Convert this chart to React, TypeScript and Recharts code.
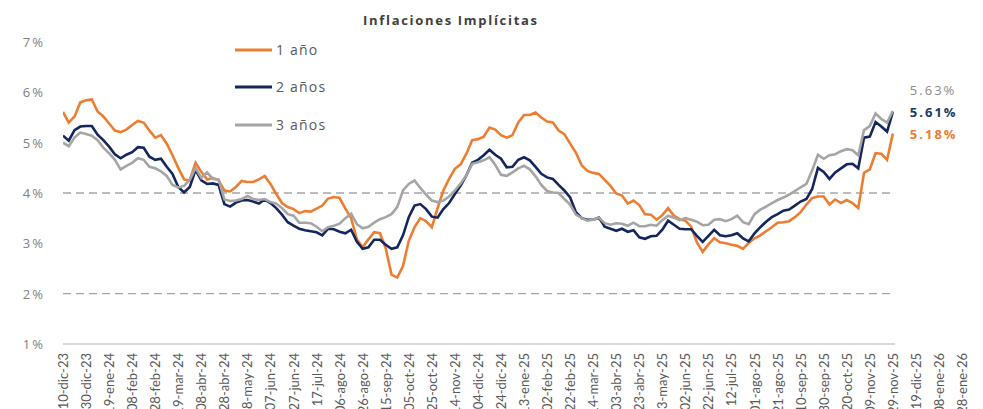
import React from "react";
import { LineChart, Line, XAxis, YAxis, ReferenceLine, Legend } from "recharts";

const tickLabels = [
  "10-dic-23", "30-dic-23", "19-ene-24", "08-feb-24", "28-feb-24", "19-mar-24", "08-abr-24", "28-abr-24",
  "18-may-24", "07-jun-24", "27-jun-24", "17-jul-24", "06-ago-24", "26-ago-24", "15-sep-24", "05-oct-24",
  "25-oct-24", "14-nov-24", "04-dic-24", "24-dic-24", "13-ene-25", "02-feb-25", "22-feb-25", "14-mar-25",
  "03-abr-25", "23-abr-25", "13-may-25", "02-jun-25", "22-jun-25", "12-jul-25", "01-ago-25", "21-ago-25",
  "10-sep-25", "30-sep-25", "20-oct-25", "09-nov-25", "29-nov-25", "19-dic-25", "08-ene-26", "28-ene-26",
];

const yTicks = [1, 2, 3, 4, 5, 6, 7];
const dashedLevels = [2, 4];

const oneYear = [
  5.61, 5.40, 5.52, 5.80, 5.84, 5.86, 5.62, 5.52, 5.38, 5.24,
  5.21, 5.26, 5.35, 5.43, 5.40, 5.24, 5.10, 5.15, 4.98, 4.75,
  4.50, 4.27, 4.25, 4.60, 4.42, 4.27, 4.30, 4.25, 4.05, 4.03,
  4.12, 4.24, 4.22, 4.22, 4.27, 4.34, 4.18, 3.98, 3.80, 3.72,
  3.68, 3.60, 3.64, 3.63, 3.69, 3.75, 3.89, 3.92, 3.90, 3.69,
  3.50, 3.08, 2.92, 3.08, 3.22, 3.20, 2.90, 2.38, 2.32, 2.55,
  3.05, 3.32, 3.50, 3.44, 3.32, 3.70, 4.05, 4.28, 4.48, 4.57,
  4.78, 5.05, 5.07, 5.12, 5.30, 5.26, 5.15, 5.10, 5.15, 5.40,
  5.55, 5.55, 5.60, 5.50, 5.42, 5.40, 5.24, 5.17, 4.98, 4.80,
  4.55, 4.44, 4.40, 4.38, 4.26, 4.14, 3.99, 3.95, 3.79, 3.85,
  3.76, 3.58, 3.57, 3.47, 3.56, 3.70, 3.55, 3.48, 3.45, 3.33,
  3.02, 2.83, 2.98, 3.10, 3.02, 3.00, 2.97, 2.95, 2.89, 3.01,
  3.10, 3.16, 3.24, 3.32, 3.41, 3.42, 3.44, 3.52, 3.62, 3.77,
  3.90, 3.93, 3.93, 3.77, 3.87, 3.80, 3.86, 3.80, 3.70, 4.40,
  4.47, 4.79, 4.78, 4.66, 5.18,
];

const twoYears = [
  5.14, 5.04, 5.25, 5.32, 5.33, 5.33, 5.16, 5.05, 4.92, 4.77,
  4.69, 4.76, 4.81, 4.91, 4.90, 4.72, 4.66, 4.68, 4.52, 4.38,
  4.12, 4.01, 4.12, 4.46, 4.25, 4.18, 4.19, 4.16, 3.78, 3.73,
  3.81, 3.85, 3.86, 3.83, 3.79, 3.87, 3.80, 3.70, 3.57, 3.42,
  3.35, 3.29, 3.26, 3.24, 3.22, 3.16, 3.29, 3.28, 3.23, 3.20,
  3.27, 3.03, 2.89, 2.92, 3.07, 3.07, 2.97, 2.89, 2.92, 3.16,
  3.52, 3.75, 3.78, 3.68, 3.53, 3.51, 3.68, 3.80, 3.98, 4.15,
  4.35, 4.60, 4.66, 4.75, 4.86, 4.76, 4.68, 4.51, 4.52, 4.66,
  4.71, 4.65, 4.52, 4.38, 4.31, 4.28, 4.16, 4.05, 3.91, 3.62,
  3.50, 3.47, 3.47, 3.51, 3.33, 3.29, 3.25, 3.29, 3.23, 3.26,
  3.12, 3.09, 3.14, 3.15, 3.27, 3.45, 3.37, 3.29, 3.28, 3.28,
  3.15, 3.03, 3.15, 3.27, 3.16, 3.14, 3.16, 3.20, 3.10, 3.04,
  3.20, 3.32, 3.43, 3.52, 3.58, 3.65, 3.67, 3.75, 3.83, 3.88,
  4.08, 4.50, 4.42, 4.28, 4.41, 4.49, 4.57, 4.58, 4.49, 5.10,
  5.12, 5.41, 5.32, 5.22, 5.61,
];

const threeYears = [
  5.00, 4.93, 5.10, 5.20, 5.17, 5.14, 5.05, 4.90, 4.79, 4.66,
  4.47, 4.54, 4.60, 4.69, 4.66, 4.52, 4.49, 4.43, 4.34, 4.16,
  4.11, 4.14, 4.26, 4.50, 4.30, 4.41, 4.28, 4.27, 3.87, 3.84,
  3.85, 3.88, 3.94, 3.88, 3.86, 3.88, 3.82, 3.79, 3.70, 3.58,
  3.55, 3.41, 3.41, 3.40, 3.33, 3.24, 3.32, 3.35, 3.39, 3.50,
  3.59, 3.38, 3.30, 3.33, 3.41, 3.48, 3.52, 3.58, 3.72, 4.05,
  4.18, 4.25, 4.10, 3.97, 3.85, 3.82, 3.85, 3.93, 4.05, 4.19,
  4.35, 4.58, 4.61, 4.65, 4.71, 4.56, 4.36, 4.34, 4.41, 4.49,
  4.54, 4.47, 4.33, 4.16, 4.04, 4.01, 4.00, 3.88, 3.77, 3.57,
  3.50, 3.45, 3.47, 3.51, 3.40, 3.37, 3.40, 3.39, 3.35, 3.41,
  3.34, 3.34, 3.37, 3.35, 3.46, 3.55, 3.51, 3.46, 3.50, 3.47,
  3.43, 3.36, 3.37, 3.47, 3.48, 3.44, 3.48, 3.55, 3.42, 3.38,
  3.58, 3.67, 3.73, 3.80, 3.86, 3.91, 3.97, 4.04, 4.11, 4.18,
  4.45, 4.76, 4.68, 4.75, 4.77, 4.83, 4.87, 4.85, 4.75, 5.25,
  5.33, 5.58, 5.47, 5.40, 5.63,
];

// Each data step is a quarter of the spacing between two date labels.
const STEPS_PER_LABEL = 4;
const lastIndex = oneYear.length - 1;

const data = oneYear.map((v, i) => ({
  t: i,
  y1: v,
  y2: twoYears[i],
  y3: threeYears[i],
}));

const xTicks = tickLabels.map((_, i) => i * STEPS_PER_LABEL);
const xMax = (tickLabels.length - 1) * STEPS_PER_LABEL;

const FONT = "'Open Sans', 'Noto Sans', sans-serif";

const SERIES = [
  { key: "y1", name: "1 año", color: "#ED7D31", labelColor: "#ED7D31", labelWeight: 700, labelDy: 0 },
  { key: "y2", name: "2 años", color: "#13275E", labelColor: "#1F3864", labelWeight: 700, labelDy: 0 },
  { key: "y3", name: "3 años", color: "#A5A5A5", labelColor: "#8C8C8C", labelWeight: 400, labelDy: -21 },
];

const XTick = (props: any) => {
  const { x, y, payload } = props;
  const label = tickLabels[Math.round(payload.value / STEPS_PER_LABEL)];
  return (
    <text
      x={x}
      y={y}
      transform={`rotate(-90 ${x} ${y})`}
      textAnchor="end"
      dominantBaseline="central"
      fontFamily="Lato, sans-serif"
      fontSize={13}
      fill="#595959"
    >
      {label}
    </text>
  );
};

const YTick = (props: any) => {
  const { x, y, payload } = props;
  return (
    <text
      x={x}
      y={y}
      textAnchor="end"
      dominantBaseline="central"
      fontFamily={FONT}
      fontSize={13}
      letterSpacing={2}
      fill="#7F7F7F"
    >
      {`${payload.value}%`}
    </text>
  );
};

const makeEndLabel = (s: (typeof SERIES)[number]) => (props: any) => {
  const { x, y, index, value } = props;
  if (index !== lastIndex) return <g />;
  return (
    <text
      x={x + 17}
      y={y + s.labelDy}
      dominantBaseline="central"
      fontFamily={FONT}
      fontSize={13}
      fontWeight={s.labelWeight}
      letterSpacing={2}
      fill={s.labelColor}
    >
      {`${Number(value).toFixed(2)}%`}
    </text>
  );
};

const LegendContent = () => (
  <div style={{ fontFamily: FONT, fontSize: 14, color: "#595959", letterSpacing: 1.2 }}>
    {SERIES.map((s) => (
      <div key={s.key} style={{ display: "flex", alignItems: "center", height: 37.5 }}>
        <svg width={38} height={4} style={{ display: "block" }}>
          <line x1={0} y1={2} x2={37} y2={2} stroke={s.color} strokeWidth={3} />
        </svg>
        <span style={{ marginLeft: 3, lineHeight: "16px" }}>{s.name}</span>
      </div>
    ))}
  </div>
);

const plotEnd = lastIndex + 0.4;

export default function App() {
  return (
    <div style={{ position: "absolute", left: 0, top: 0, width: 983, height: 409, background: "#fff" }}>
      <div
        style={{
          position: "absolute",
          left: 363,
          top: 14,
          fontFamily: FONT,
          fontSize: 13,
          lineHeight: "13px",
          fontWeight: 700,
          letterSpacing: 1.7,
          color: "#404040",
          whiteSpace: "nowrap",
          zIndex: 2,
        }}
      >
        Inflaciones Implícitas
      </div>
      <LineChart width={983} height={409} data={data} margin={{ top: 42, right: 21, bottom: 0, left: 0 }}>
        <XAxis
          dataKey="t"
          type="number"
          domain={[0, xMax]}
          ticks={xTicks}
          interval={0}
          tick={<XTick />}
          axisLine={false}
          tickLine={false}
          tickSize={0}
          tickMargin={9}
          height={65}
          allowDataOverflow
        />
        <YAxis
          type="number"
          domain={[1, 7]}
          ticks={yTicks}
          interval={0}
          tick={<YTick />}
          axisLine={false}
          tickLine={false}
          tickSize={0}
          tickMargin={18}
          width={63}
        />
        <ReferenceLine
          segment={[{ x: 0, y: 1 }, { x: plotEnd, y: 1 }]}
          stroke="#D9D9D9"
          strokeWidth={2}
        />
        {dashedLevels.map((lv) => (
          <ReferenceLine
            key={lv}
            segment={[{ x: 0, y: lv }, { x: plotEnd, y: lv }]}
            stroke="#A6A6A6"
            strokeWidth={1.3}
            strokeDasharray="8 5"
          />
        ))}
        <Legend
          layout="horizontal"
          verticalAlign="middle"
          align="center"
          content={<LegendContent />}
          wrapperStyle={{ left: 235, top: 31, width: 140, height: 115 }}
        />
        {SERIES.map((s) => (
          <Line
            key={s.key}
            dataKey={s.key}
            name={s.name}
            type="linear"
            stroke={s.color}
            strokeWidth={2.6}
            dot={false}
            activeDot={false}
            isAnimationActive={false}
            label={makeEndLabel(s)}
          />
        ))}
      </LineChart>
    </div>
  );
}
